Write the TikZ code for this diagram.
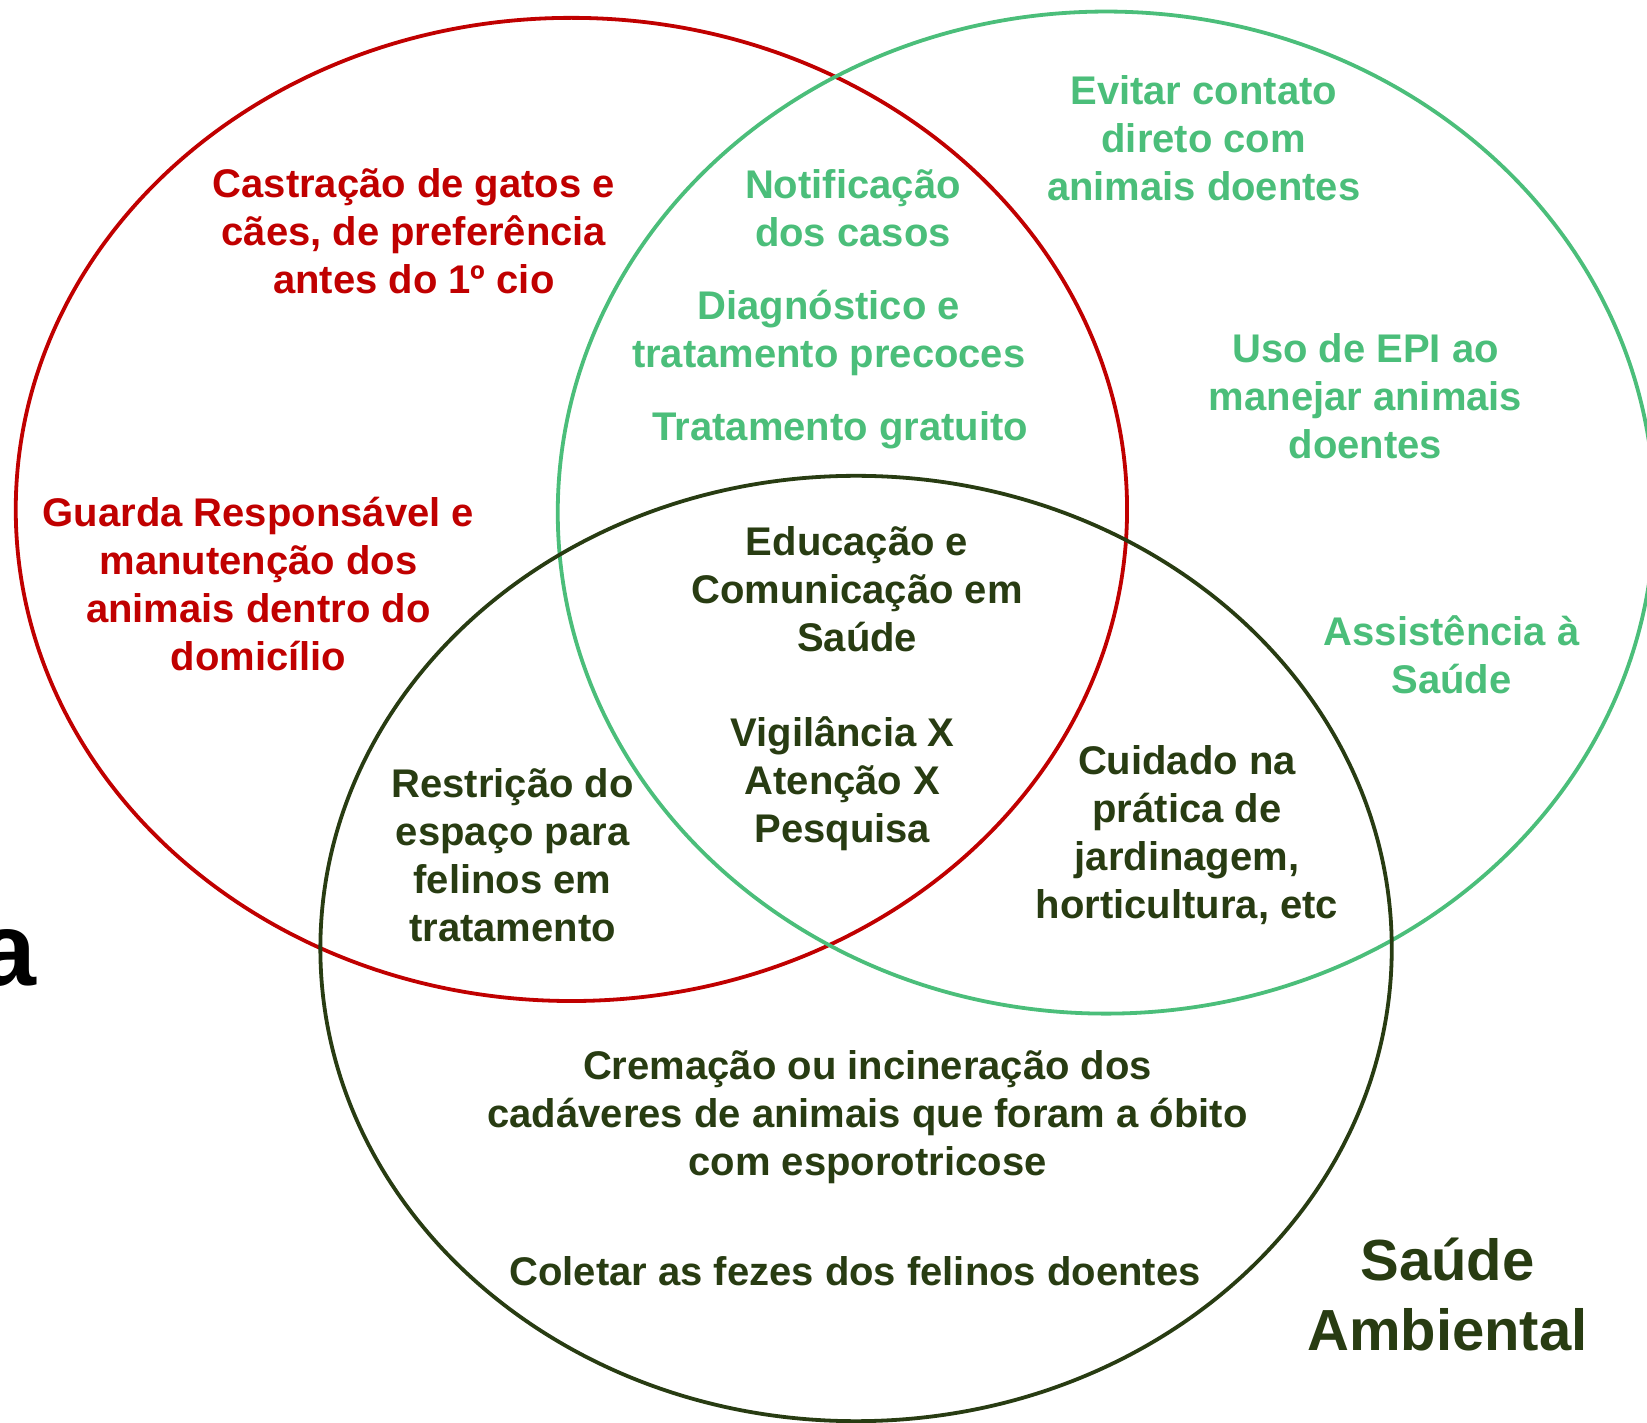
\documentclass[tikz,border=0pt]{standalone}
\usepackage{fontspec}
\setmainfont{Liberation Sans}
\definecolor{cred}{HTML}{C00000}
\definecolor{cgreen}{HTML}{4BBE7A}
\definecolor{cdark}{HTML}{283C12}
\begin{document}
\begin{tikzpicture}[x=0.5252pt,y=-0.5252pt,
  lbl/.style={align=center,inner sep=0pt,font=\fontsize{20}{24}\selectfont\bfseries},
  redt/.style={lbl,text=cred},
  greent/.style={lbl,text=cgreen},
  darkt/.style={lbl,text=cdark},
  ring/.style={line width=1.9pt}]
\useasboundingbox (0,0) rectangle (1568,1354);
\draw[ring,cred] (544,485) ellipse [x radius=529,y radius=468];
\draw[ring,cgreen] (1053,488) ellipse [x radius=522,y radius=477];
\draw[ring,cdark] (815,903) ellipse [x radius=510,y radius=450];

\node[redt] (castr) at (394,220) {Castração de gatos e\\cães, de preferência\\antes do 1º cio};
\node[redt] (guarda) at (246,556) {Guarda Responsável e\\manutenção dos\\animais dentro do\\domicílio};

\node[greent] (evitar) at (1146,132) {Evitar contato\\direto com\\animais doentes};
\node[greent] (notif) at (812,198) {Notificação\\dos casos};
\node[greent] (diag) at (789,317) {Diagnóstico e\\tratamento precoces};
\node[greent] (trat) at (800,410) {Tratamento gratuito};
\node[greent] (epi) at (1300,377) {Uso de EPI ao\\manejar animais\\doentes};
\node[greent] (assist) at (1382,623) {Assistência à\\Saúde};

\node[darkt] (educ) at (816,561) {Educação e\\Comunicação em\\Saúde};
\node[darkt] (vigil) at (802,746) {Vigilância X\\Atenção X\\Pesquisa};
\node[darkt] (restr) at (488,814) {Restrição do\\espaço para\\felinos em\\tratamento};
\node[darkt] (cuid) at (1130,795) {Cuidado na\\prática de\\jardinagem,\\horticultura, etc};
\node[darkt] (crem) at (826,1064) {Cremação ou incineração dos\\cadáveres de animais que foram a óbito\\com esporotricose};
\node[darkt] (colet) at (814,1210) {Coletar as fezes dos felinos doentes};
\node[align=center,inner sep=0pt,text=cdark,font=\fontsize{29}{35}\selectfont\bfseries] (amb) at (1378,1232) {Saúde\\Ambiental};
\node[anchor=base east,inner sep=0pt,font=\fontsize{52}{60}\selectfont\bfseries] (hum) at (35,938) {a};
\end{tikzpicture}
\end{document}
